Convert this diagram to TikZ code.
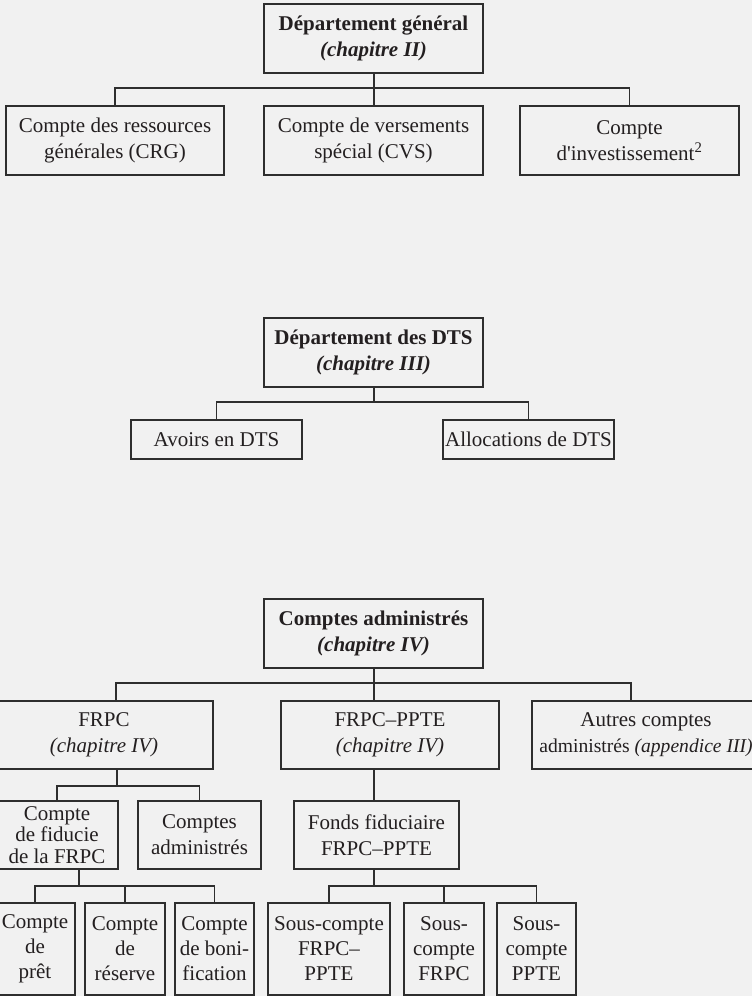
\documentclass[tikz,border=0pt]{standalone}
\usepackage{fontspec}
\setmainfont{Liberation Serif}[Ligatures=TeXOff]
\definecolor{bgc}{HTML}{F1F1F1}
\definecolor{linec}{HTML}{2E2E2E}
\definecolor{txtc}{HTML}{231F20}
\begin{document}
\begin{tikzpicture}[x=1pt,y=-1pt,
  box/.style={draw=linec, line width=1.3pt, align=center, inner sep=0pt, outer sep=0pt,
    text=txtc, font=\fontsize{21}{26}\selectfont},
  tight/.style={font=\fontsize{21}{21.5}\selectfont},
  tall/.style={font=\fontsize{21}{25}\selectfont},
  conn/.style={draw=linec, line width=1.3pt}]
\useasboundingbox (0,0) rectangle (752,996);
\fill[bgc] (0,0) rectangle (752,996);
\clip (0,0) rectangle (752,996);

% ---------- Section 1
\node[box, minimum width=219, minimum height=69] (A) at (373.5,38.5)
  {\textbf{Département général}\\\textbf{\textit{(chapitre II)}}};
\node[box, minimum width=218, minimum height=69] (B1) at (115,140.5)
  {Compte des ressources\\générales (CRG)};
\node[box, minimum width=219, minimum height=69] (B2) at (373.5,140.5)
  {Compte de versements\\spécial (CVS)};
\node[box, minimum width=219, minimum height=69] (B3) at (629.5,140.5)
  {Compte\\d'investissement\textsuperscript{2}};
\coordinate (busA) at (374,88);
\draw[conn] (A.south -| busA) -- (busA);
\draw[conn] (B1.north) |- (B3.north |- busA) -- (B3.north);
\draw[conn] (busA) -- (B2.north -| busA);

% ---------- Section 2
\node[box, minimum width=219, minimum height=69] (D) at (373.5,352.5)
  {\textbf{Département des DTS}\\\textbf{\textit{(chapitre III)}}};
\node[box, minimum width=171, minimum height=39] (D1) at (216.5,439.5) {Avoirs en DTS};
\node[box, minimum width=171, minimum height=39] (D2) at (528.5,439.5) {Allocations de DTS};
\coordinate (busD) at (374,402);
\draw[conn] (D.south -| busD) -- (busD);
\draw[conn] (D1.north) |- (D2.north |- busD) -- (D2.north);

% ---------- Section 3
\node[box, minimum width=219, minimum height=69] (C) at (373.5,633.5)
  {\textbf{Comptes administrés}\\\textbf{\textit{(chapitre IV)}}};
\node[box, minimum width=218, minimum height=68] (C1) at (104,735)
  {FRPC\\\textit{(chapitre IV)}};
\node[box, minimum width=218, minimum height=68] (C2) at (390,735)
  {FRPC–PPTE\\\textit{(chapitre IV)}};
\node[box, minimum width=228, minimum height=68] (C3) at (646,735)
  {Autres comptes\\{\fontsize{19.6}{26}\selectfont administrés \textit{(appendice III)}}};
\coordinate (busC) at (374,683);
\coordinate (dC1) at (116,683);
\coordinate (dC3) at (631,683);
\draw[conn] (C.south -| busC) -- (busC);
\draw[conn] (dC1 |- C1.north) -- (dC1) -- (dC3) -- (dC3 |- C3.north);
\draw[conn] (busC) -- (busC |- C2.north);

% FRPC subtree
\node[box, tight, minimum width=122, minimum height=68] (F1) at (57,835)
  {Compte\\de fiducie\\de la FRPC};
\node[box, minimum width=123, minimum height=68] (F2) at (199.5,835)
  {Comptes\\administrés};
\coordinate (busF) at (117,786);
\draw[conn] (busF |- C1.south) -- (busF);
\draw[conn] (F1.north) |- (F2.north |- busF) -- (F2.north);

\node[box, tall, minimum width=80, minimum height=92] (P1) at (35,949) {Compte\\de\\prêt};
\node[box, tall, minimum width=80, minimum height=92] (P2) at (125,949) {Compte\\de\\réserve};
\node[box, tall, minimum width=79, minimum height=92] (P3) at (214.5,949) {Compte\\de boni-\\fication};
\coordinate (busP) at (79,886);
\draw[conn] (busP |- F1.south) -- (busP);
\draw[conn] (P1.north) |- (P3.north |- busP) -- (P3.north);
\draw[conn] (P2.north |- busP) -- (P2.north);

% FRPC-PPTE subtree
\node[box, minimum width=165, minimum height=68] (G1) at (376.5,835)
  {Fonds fiduciaire\\FRPC–PPTE};
\draw[conn] (busC |- C2.south) -- (busC |- G1.north);

\node[box, tall, minimum width=122, minimum height=92] (S1) at (329,949) {Sous-compte\\FRPC–\\PPTE};
\node[box, tall, minimum width=80, minimum height=92] (S2) at (444,949) {Sous-\\compte\\FRPC};
\node[box, tall, minimum width=79, minimum height=92] (S3) at (536.5,949) {Sous-\\compte\\PPTE};
\coordinate (busS) at (374,886);
\draw[conn] (busS |- G1.south) -- (busS);
\draw[conn] (S1.north) |- (S3.north |- busS) -- (S3.north);
\draw[conn] (S2.north |- busS) -- (S2.north);
\end{tikzpicture}
\end{document}
